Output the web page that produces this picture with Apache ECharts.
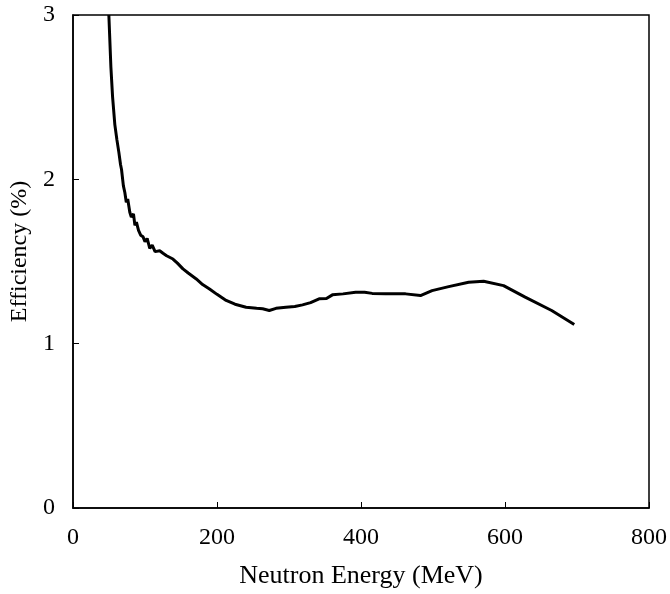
<!DOCTYPE html>
<html>
<head>
<meta charset="utf-8">
<script src="https://cdn.jsdelivr.net/npm/echarts@6/dist/echarts.min.js"></script>
<style>html,body{margin:0;padding:0;background:#fff}#c{width:670px;height:594px}</style>
</head>
<body>
<div id="c"></div>
<script>
var energy = [49.8, 52.6, 55, 58.1, 61, 63.7, 66, 67.4, 70, 72, 74, 76, 78.9, 81, 84, 86, 88.1, 91, 94, 97.3, 100, 103, 106.6, 110, 114, 120.4, 125, 130, 138.8, 145, 152.7, 160, 171.2, 180, 189.6, 200, 212.7, 225, 240.4, 255, 263.4, 272.6, 282, 295.7, 308, 318.8, 330, 341.8, 352, 360.3, 375, 392.6, 405, 415.6, 434.2, 461.9, 482.6, 498.7, 521.8, 549.5, 570.3, 598, 628, 664.8, 696.2];
var efficiency = [3.0, 2.685, 2.50, 2.333, 2.24, 2.164, 2.09, 2.06, 1.96, 1.92, 1.86, 1.88, 1.80, 1.77, 1.79, 1.72, 1.74, 1.69, 1.66, 1.65, 1.62, 1.64, 1.58, 1.60, 1.56, 1.565, 1.55, 1.535, 1.515, 1.49, 1.455, 1.43, 1.394, 1.36, 1.333, 1.30, 1.263, 1.24, 1.222, 1.215, 1.212, 1.202, 1.215, 1.222, 1.226, 1.236, 1.25, 1.273, 1.275, 1.297, 1.303, 1.313, 1.313, 1.306, 1.303, 1.303, 1.293, 1.323, 1.347, 1.374, 1.380, 1.353, 1.283, 1.202, 1.117];
var xTicks = [0, 200, 400, 600, 800];
var yTicks = [0, 1, 2, 3];

var data = energy.map(function (e, i) { return [e, efficiency[i]]; });
var font = 'Liberation Serif';
var chart = echarts.init(document.getElementById('c'));
chart.setOption({
  animation: false,
  backgroundColor: '#fff',
  grid: { left: 73, top: 15, right: 19, bottom: 84, show: true, borderColor: '#000', borderWidth: 1.5 },
  xAxis: {
    type: 'value', min: xTicks[0], max: xTicks[xTicks.length - 1], interval: 200,
    name: 'Neutron Energy (MeV)', nameLocation: 'middle', nameGap: 55,
    nameTextStyle: { fontFamily: font, fontSize: 26, color: '#000' },
    axisLine: { show: true, lineStyle: { color: '#000', width: 1.5 } },
    axisTick: { show: true, inside: true, length: 6, lineStyle: { color: '#000' } },
    axisLabel: { fontFamily: font, fontSize: 24, color: '#000', margin: 18 },
    splitLine: { show: false }
  },
  yAxis: {
    type: 'value', min: yTicks[0], max: yTicks[yTicks.length - 1], interval: 1,
    name: 'Efficiency (%)', nameLocation: 'middle', nameGap: 40,
    nameTextStyle: { fontFamily: font, fontSize: 24, color: '#000', padding: [0, 0, 0, 20] },
    axisLine: { show: true, lineStyle: { color: '#000', width: 1.5 } },
    axisTick: { show: true, inside: true, length: 6, lineStyle: { color: '#000' } },
    axisLabel: { fontFamily: font, fontSize: 24, color: '#000', margin: 18 },
    splitLine: { show: false }
  },
  series: [{
    type: 'line', data: data, showSymbol: false, smooth: false,
    lineStyle: { color: '#000', width: 3 }
  }]
});
</script>
</body>
</html>
